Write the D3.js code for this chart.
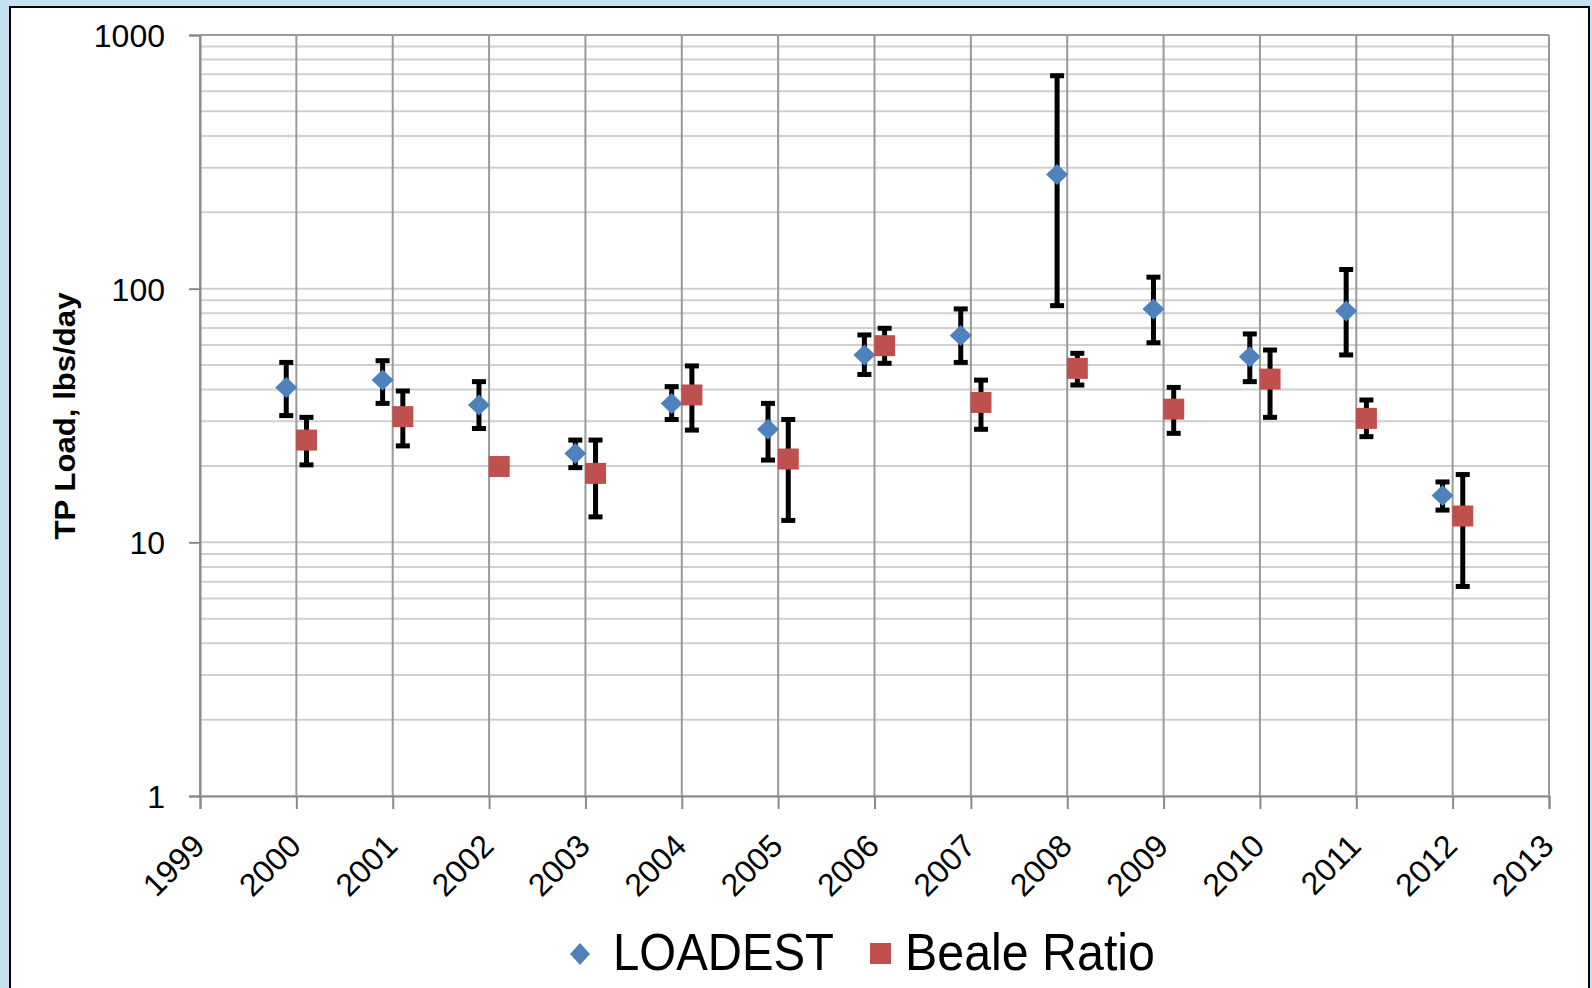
<!DOCTYPE html>
<html>
<head>
<meta charset="utf-8">
<script src="https://cdn.jsdelivr.net/npm/d3@7"></script>
<style>
  body { margin: 0; background: #c6e0ef; }
  svg { display: block; }
</style>
</head>
<body>
<div id="chart"></div>
<script>
(function () {

  // annual TP loads, lbs/day
  const years = [2000, 2001, 2002, 2003, 2004, 2005, 2006, 2007, 2008, 2009, 2010, 2011, 2012]
  const xTicks = [1999, 2000, 2001, 2002, 2003, 2004, 2005, 2006, 2007, 2008, 2009, 2010, 2011, 2012, 2013]
  const yTicks = [1, 10, 100, 1000]

  const loadest = [40.8, 43.6, 34.8, 22.4, 35.3, 27.9, 54.8, 65.3, 282, 83.2, 53.9, 81.6, 15.3]
  const loadestLow = [31.6, 35.3, 28.1, 19.7, 30.5, 21.1, 45.9, 51.2, 85.7, 61.2, 43.0, 54.8, 13.4]
  const loadestHigh = [51.2, 52.0, 43.0, 25.3, 41.1, 35.3, 65.7, 83.2, 691, 111, 66.3, 119, 17.3]

  const beale = [25.3, 31.3, 19.9, 18.7, 38.1, 21.3, 59.6, 35.6, 48.5, 33.5, 44.0, 30.8, 12.7]
  const bealeLow = [20.2, 24.0, null, 12.6, 27.7, 12.2, 50.8, 27.9, 41.7, 26.9, 31.1, 26.1, 6.7]
  const bealeHigh = [31.1, 39.5, null, 25.3, 49.6, 30.5, 69.8, 43.6, 55.6, 40.8, 57.3, 36.4, 18.5]

  const seriesNames = ['LOADEST', 'Beale Ratio']

  const margin = { top: 35, right: 43, bottom: 192, left: 200 }
  const width = 1592 - margin.left - margin.right
  const height = 988 - margin.top - margin.bottom

  const svg0 = d3.select("#chart").append("svg")
    .attr("width", 1592)
    .attr("height", 988)

  // white panel with black frame
  svg0.append("rect")
    .attr("x", 10)
    .attr("y", 7)
    .attr("width", 1579)
    .attr("height", 995)
    .attr("fill", "white")
    .attr("stroke", "black")
    .attr("stroke-width", 2)

  const svg = svg0.append("g")
    .attr("transform", "translate(" + margin.left + "," + margin.top + ")")

  const xPositionScale = d3.scaleLinear()
    .domain([1999, 2013])
    .range([0, width])

  const yPositionScale = d3.scaleLog()
    .domain([1, 1000])
    .range([height, 0])

  // side-by-side offset (years) for the two series
  const shift = 0.105

  // horizontal gridlines, every 1..9 in each decade
  svg.append("g")
    .selectAll("line")
    .data(yPositionScale.ticks())
    .join("line")
    .attr("x1", 0)
    .attr("x2", width)
    .attr("y1", d => yPositionScale(d))
    .attr("y2", d => yPositionScale(d))
    .attr("stroke", d => d === 1000 ? "#9a9a9a" : "#d0d0d0")
    .attr("stroke-width", 2)

  // vertical gridlines
  svg.append("g")
    .selectAll("line")
    .data(xTicks)
    .join("line")
    .attr("x1", d => xPositionScale(d))
    .attr("x2", d => xPositionScale(d))
    .attr("y1", 0)
    .attr("y2", height)
    .attr("stroke", "#9a9a9a")
    .attr("stroke-width", 2)

  const yAxis = d3.axisLeft(yPositionScale)
    .tickValues(yTicks)
    .tickFormat(d3.format("d"))
    .tickSize(11)
    .tickPadding(24)
  svg.append("g")
    .attr("class", "axis y-axis")
    .call(yAxis)

  const xAxis = d3.axisBottom(xPositionScale)
    .tickValues(xTicks)
    .tickFormat(d3.format("d"))
    .tickSize(13)
  svg.append("g")
    .attr("class", "axis x-axis")
    .attr("transform", "translate(0," + height + ")")
    .call(xAxis)

  svg.selectAll(".axis .domain, .axis line")
    .attr("stroke", "#8a8a8a")
    .attr("stroke-width", 2)

  svg.selectAll(".axis text")
    .attr("fill", "black")
    .attr("font-family", "Liberation Sans, Arial, sans-serif")
    .attr("font-size", 32)

  svg.selectAll(".y-axis text")
    .attr("dy", "0.36em")

  svg.selectAll(".x-axis text")
    .attr("text-anchor", "end")
    .attr("y", 0)
    .attr("dy", 0)
    .attr("transform", "translate(6,52) rotate(-45)")

  // y axis title
  svg0.append("text")
    .attr("transform", "translate(75,416) rotate(-90)")
    .attr("text-anchor", "middle")
    .attr("font-family", "Liberation Sans, Arial, sans-serif")
    .attr("font-weight", "bold")
    .attr("font-size", 30)
    .attr("textLength", 247)
    .attr("lengthAdjust", "spacingAndGlyphs")
    .text("TP Load, lbs/day")

  const loadestPts = years.map((y, i) => ({ x: y - shift, v: loadest[i], lo: loadestLow[i], hi: loadestHigh[i] }))
  const bealePts = years.map((y, i) => ({ x: y + shift, v: beale[i], lo: bealeLow[i], hi: bealeHigh[i] }))

  function errorBars (pts) {
    const g = svg.append("g")
      .selectAll("g")
      .data(pts.filter(d => d.lo !== null))
      .join("g")
    g.append("line")
      .attr("x1", d => xPositionScale(d.x))
      .attr("x2", d => xPositionScale(d.x))
      .attr("y1", d => yPositionScale(d.lo))
      .attr("y2", d => yPositionScale(d.hi))
      .attr("stroke", "black")
      .attr("stroke-width", 5)
    ;['lo', 'hi'].forEach(k => {
      g.append("line")
        .attr("x1", d => xPositionScale(d.x) - 7)
        .attr("x2", d => xPositionScale(d.x) + 7)
        .attr("y1", d => yPositionScale(d[k]))
        .attr("y2", d => yPositionScale(d[k]))
        .attr("stroke", "black")
        .attr("stroke-width", 5)
    })
  }
  errorBars(loadestPts)
  errorBars(bealePts)

  const diamond = "M0,-10.5L11,0L0,10.5L-11,0Z"

  svg.append("g")
    .selectAll("path")
    .data(loadestPts)
    .join("path")
    .attr("d", diamond)
    .attr("transform", d => "translate(" + xPositionScale(d.x) + "," + yPositionScale(d.v) + ")")
    .attr("fill", "#4f81bd")

  svg.append("g")
    .selectAll("rect")
    .data(bealePts)
    .join("rect")
    .attr("x", d => xPositionScale(d.x) - 10.5)
    .attr("y", d => yPositionScale(d.v) - 10.5)
    .attr("width", 21)
    .attr("height", 21)
    .attr("fill", "#c0504d")

  // legend
  const legend = svg0.append("g")

  legend.append("path")
    .attr("d", "M0,-11L10,0L0,11L-10,0Z")
    .attr("transform", "translate(580,954)")
    .attr("fill", "#4f81bd")

  legend.append("text")
    .attr("x", 613)
    .attr("y", 970)
    .attr("font-family", "Liberation Sans, Arial, sans-serif")
    .attr("font-size", 52)
    .attr("textLength", 221)
    .attr("lengthAdjust", "spacingAndGlyphs")
    .text(seriesNames[0])

  legend.append("rect")
    .attr("x", 870)
    .attr("y", 943)
    .attr("width", 21)
    .attr("height", 21)
    .attr("fill", "#c0504d")

  legend.append("text")
    .attr("x", 905)
    .attr("y", 970)
    .attr("font-family", "Liberation Sans, Arial, sans-serif")
    .attr("font-size", 52)
    .attr("textLength", 250)
    .attr("lengthAdjust", "spacingAndGlyphs")
    .text(seriesNames[1])

})();
</script>
</body>
</html>
